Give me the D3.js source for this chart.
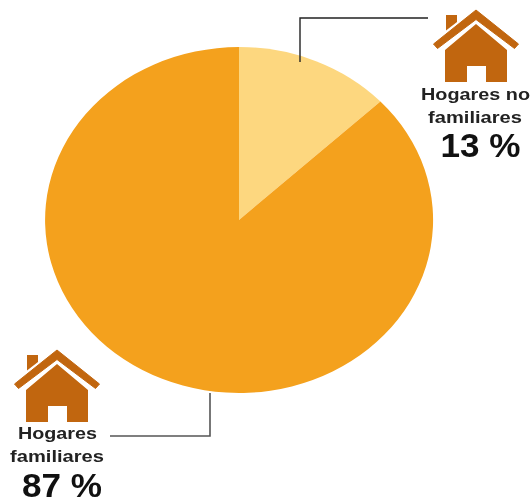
<!DOCTYPE html>
<html><head><meta charset="utf-8">
<script src="https://cdn.jsdelivr.net/npm/d3@7"></script>
<style>html,body{margin:0;padding:0;background:#fff}svg{display:block}text{font-family:"Liberation Sans",Arial,sans-serif;font-weight:bold;text-anchor:middle}</style>
</head><body><div id="chart"></div>
<script>
const categories = ["Hogares no familiares", "Hogares familiares"];
const values = [13, 87];
const labelLines = [["Hogares no", "familiares"], ["Hogares", "familiares"]];
const percentLabels = ["13 %", "87 %"];
const colors = ["#FDD77F", "#F4A11D"];
const houseColor = "#C1660F";

const svg = d3.select("#chart").append("svg").attr("width", 532).attr("height", 498)
  .attr("viewBox", "0 0 532 498").style("filter", "blur(0.5px)");

const pie = d3.pie().sort(null).value(d => d);
const arc = d3.arc().innerRadius(0).outerRadius(1);
svg.append("g").attr("transform", "translate(239,220) scale(194,173)")
  .selectAll("path").data(pie(values)).join("path")
  .attr("d", arc).attr("fill", (d, i) => colors[i]);

const leader = d3.line();
svg.append("path").attr("d", leader([[300, 62], [300, 18], [428, 18]]))
  .attr("fill", "none").attr("stroke", "#222").attr("stroke-width", 1.4);
svg.append("path").attr("d", leader([[210, 393], [210, 436], [110, 436]]))
  .attr("fill", "none").attr("stroke", "#555").attr("stroke-width", 1.6);

function house(x, y) {
  const g = svg.append("g").attr("transform", `translate(${x},${y})`).attr("fill", houseColor);
  g.append("path").attr("d", "M-30,5 L-19,5 L-19,12 L-30,20.5 Z");
  g.append("path").attr("d", "M0,0 L42.5,34 L38.5,38.5 L0,9.5 L-38.5,38.5 L-42.5,34 Z")
    .attr("stroke", houseColor).attr("stroke-width", 1).attr("stroke-linejoin", "round");
  g.append("path").attr("fill-rule", "evenodd")
    .attr("d", "M0,14 L31,40 L31,72 L10,72 L10,56 L-9,56 L-9,72 L-31,72 L-31,40 Z");
}
house(476, 10);
house(57, 350);

const lineBoxes = [
  [{x: 475.5, y: 100, w: 109}, {x: 475, y: 123, w: 94}, {x: 480.5, y: 157, w: 80}],
  [{x: 57.5, y: 439, w: 79}, {x: 57, y: 462, w: 94}, {x: 62, y: 497, w: 80}]
];
categories.forEach((c, i) => {
  const texts = [labelLines[i][0], labelLines[i][1], percentLabels[i]];
  lineBoxes[i].forEach((b, j) => {
    svg.append("text").attr("x", b.x).attr("y", b.y)
      .attr("font-size", j === 2 ? 33 : 17)
      .attr("textLength", b.w).attr("lengthAdjust", "spacingAndGlyphs")
      .attr("fill", j === 2 ? "#111" : "#222").text(texts[j]);
  });
});
</script></body></html>
